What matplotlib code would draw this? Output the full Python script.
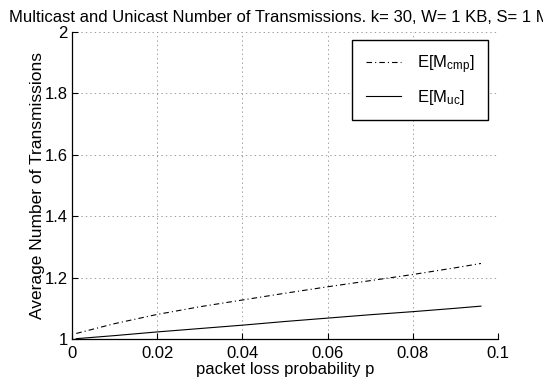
import matplotlib
matplotlib.use("Agg")
import matplotlib.pyplot as plt

plt.rcParams["font.family"] = ["Liberation Sans", "DejaVu Sans"]
plt.rcParams["mathtext.default"] = "regular"
plt.rcParams["lines.scale_dashes"] = False

# packet loss probability
p = [0.001, 0.01, 0.02, 0.03, 0.04, 0.05, 0.06, 0.07, 0.08, 0.09, 0.096]
# expected transmissions
m_cmp = [1.018, 1.05, 1.08, 1.105, 1.127, 1.149, 1.17, 1.19, 1.21, 1.232, 1.246]
m_uc = [1.001, 1.011, 1.023, 1.034, 1.045, 1.057, 1.068, 1.079, 1.089, 1.100, 1.107]

x_ticks = [0, 0.02, 0.04, 0.06, 0.08, 0.1]
x_labels = ["0", "0.02", "0.04", "0.06", "0.08", "0.1"]
y_ticks = [1, 1.2, 1.4, 1.6, 1.8, 2]
y_labels = ["1", "1.2", "1.4", "1.6", "1.8", "2"]

fig = plt.figure(figsize=(5.43, 3.82), dpi=100)
ax = fig.add_axes([0.1326, 0.1126, 0.7845, 0.8037])

ax.plot(p, m_cmp, color="black", linewidth=0.8, linestyle=(0, (4, 2.2, 0.8, 2.2)),
        label=r"E[M$_{cmp}$]")
ax.plot(p, m_uc, color="black", linewidth=0.8, linestyle="-", label=r"E[M$_{uc}$]")

ax.set_xlim(0, 0.1)
ax.set_ylim(1, 2)
ax.set_xticks(x_ticks)
ax.set_xticklabels(x_labels)
ax.set_yticks(y_ticks)
ax.set_yticklabels(y_labels)
ax.tick_params(direction="in", length=4, width=0.8, labelsize=12, colors="black")
ax.tick_params(axis="x", pad=5)
ax.tick_params(axis="y", pad=3)

ax.grid(True, linestyle=(0, (1, 2.2)), color="#777777", linewidth=0.5)
for s in ["top", "right"]:
    ax.spines[s].set_visible(False)
for s in ["left", "bottom"]:
    ax.spines[s].set_linewidth(0.9)

ax.set_xlabel("packet loss probability p", fontsize=12, labelpad=1)
ax.set_ylabel("Average Number of Transmissions", fontsize=12.5, labelpad=0)
ax.set_title("Multicast and Unicast Number of Transmissions. k= 30, W= 1 KB, S= 1 MB",
             fontsize=12, pad=7)

leg = ax.legend(loc="upper right", bbox_to_anchor=(0.977, 0.974), borderaxespad=0,
                fancybox=False, edgecolor="black", framealpha=1, fontsize=12,
                handlelength=2.1, handletextpad=1.0, borderpad=0.8, labelspacing=0.7)
leg.get_frame().set_linewidth(1.0)

fig.savefig("out.png", dpi=100)
